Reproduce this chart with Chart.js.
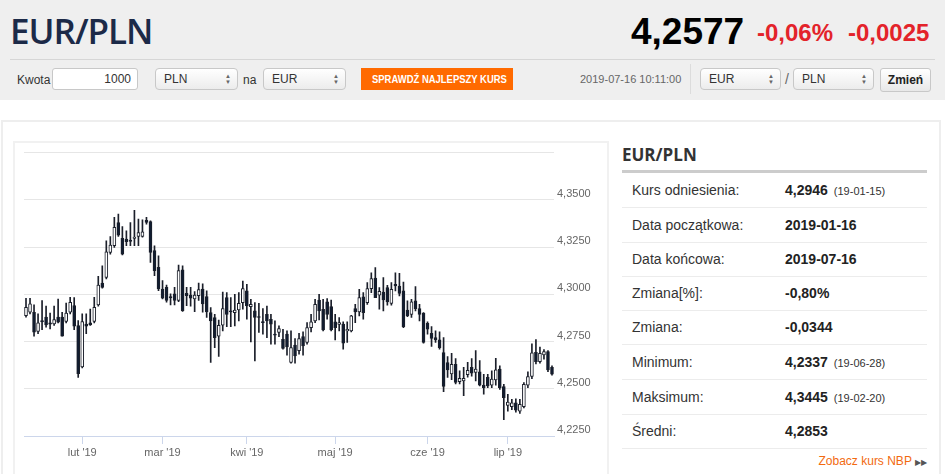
<!DOCTYPE html>
<html lang="pl">
<head>
<meta charset="utf-8">
<title>EUR/PLN</title>
<script src="https://cdn.jsdelivr.net/npm/chart.js@4.4.1/dist/chart.umd.min.js"></script>
<style>
    body { margin: 0; width: 945px; height: 474px; overflow: hidden; background: #fff; font-family: "Liberation Sans", Arial, sans-serif; color: #333; position: relative; }
    .abs { position: absolute; }
    #top { left: 0; top: 0; width: 945px; height: 100px; background: #efefef; }
    #pair { left: 10px; top: 7px; font-family: "Open Sans", sans-serif; font-weight: 600; font-size: 35px; color: #1c2a48; letter-spacing: -1px; }
    .narrow { font-family: "Liberation Sans Narrow", "Liberation Sans", Arial, sans-serif; font-weight: bold; }
    #price { left: 631px; top: 11px; font-size: 37px; color: #000; }
    #pct { left: 757px; top: 19px; font-size: 24px; color: #e3232a; }
    #chg { left: 848px; top: 19px; font-size: 24px; color: #e3232a; }
    #hr { left: 10px; top: 59px; width: 925px; height: 1px; background: #d6d6d6; }
    .lbl { font-size: 12px; top: 73px; }
    .box { top: 68px; height: 20px; border: 1px solid #c8c8c8; border-radius: 4px; background: linear-gradient(#fff, #ececec); font-size: 12px; line-height: 20px; box-sizing: content-box; }
    .box span.t { position: absolute; left: 8px; }
    .arr { position: absolute; right: 6px; top: 4px; font-size: 6px; line-height: 6px; color: #666; }
    #input { left: 52px; width: 84px; background: #fff; border-radius: 3px; text-align: right; }
    #btn { left: 361px; top: 68px; width: 152px; height: 22px; background: #ff6a00; color: #fff; font-size: 11px; line-height: 22px; text-align: center; white-space: nowrap; overflow: hidden; }
    #btn span { display: inline-block; transform: scaleX(0.86); transform-origin: center; }
    #stamp { left: 580px; top: 73px; font-size: 11px; color: #666; }
    #vsep { left: 690px; top: 64px; width: 1px; height: 30px; background: #dcdcdc; }
    #zmien { left: 880px; top: 68px; width: 49px; height: 22px; border: 1px solid #c8c8c8; border-radius: 3px; background: linear-gradient(#fff, #e8e8e8); font-size: 12px; font-weight: bold; line-height: 22px; text-align: center; color: #222; }
    #card { left: 1px; top: 120px; width: 936px; height: 400px; border: 2px solid #eeeeee; }
    #chartbox { left: 13px; top: 141px; width: 592px; height: 400px; border: 2px solid #f1f1f1; }
    #chart { position: absolute; left: 14px; top: 143px; }
    #panel { left: 622px; top: 140px; width: 305px; }
    #ptitle { left: 0; top: 3px; font-family: "Open Sans", sans-serif; font-weight: 700; font-size: 17px; color: #333; }
    #pline { left: 0; top: 30px; width: 305px; height: 3px; background: #cccccc; }
    .row { left: 0; width: 305px; height: 34px; border-bottom: 1px solid #ececec; font-size: 14px; }
    .row .k { position: absolute; left: 10px; top: 9px; color: #333; }
    .row .v { position: absolute; left: 163px; top: 9px; font-weight: bold; color: #222; }
    .row .d { font-size: 11px; font-weight: normal; margin-left: 6px; color: #333; }
    #nbp { right: 0; top: 314px; font-size: 12px; color: #f26a10; }
</style>
</head>
<body>
<div id="top" class="abs"></div>
<div id="pair" class="abs">EUR/PLN</div>
<div id="price" class="abs narrow">4,2577</div>
<div id="pct" class="abs narrow">-0,06%</div>
<div id="chg" class="abs narrow">-0,0025</div>
<div id="hr" class="abs"></div>

<div class="abs lbl" style="left:17px">Kwota</div>
<div id="input" class="abs box"><span style="padding-right:6px">1000</span></div>
<div class="abs box" style="left:155px;width:81px"><span class="t">PLN</span><span class="arr">▲<br>▼</span></div>
<div class="abs lbl" style="left:243px">na</div>
<div class="abs box" style="left:263px;width:81px"><span class="t">EUR</span><span class="arr">▲<br>▼</span></div>
<div id="btn" class="abs narrow"><span>SPRAWDŹ NAJLEPSZY KURS</span></div>
<div id="stamp" class="abs">2019-07-16 10:11:00</div>
<div id="vsep" class="abs"></div>
<div class="abs box" style="left:700px;width:79px"><span class="t">EUR</span><span class="arr">▲<br>▼</span></div>
<div class="abs lbl" style="left:785px;font-size:14px;top:71px;color:#666">/</div>
<div class="abs box" style="left:793px;width:79px"><span class="t">PLN</span><span class="arr">▲<br>▼</span></div>
<div id="zmien" class="abs">Zmień</div>

<div id="card" class="abs"></div>
<div id="chartbox" class="abs"></div>
<canvas id="chart" width="580" height="331"></canvas>

<div id="panel" class="abs">
    <div id="ptitle" class="abs">EUR/PLN</div>
    <div id="pline" class="abs"></div>
    <div class="abs row" style="top:33px"><span class="k">Kurs odniesienia:</span><span class="v">4,2946<span class="d">(19-01-15)</span></span></div>
    <div class="abs row" style="top:68px"><span class="k">Data początkowa:</span><span class="v">2019-01-16</span></div>
    <div class="abs row" style="top:102px"><span class="k">Data końcowa:</span><span class="v">2019-07-16</span></div>
    <div class="abs row" style="top:136px"><span class="k">Zmiana[%]:</span><span class="v">-0,80%</span></div>
    <div class="abs row" style="top:170px"><span class="k">Zmiana:</span><span class="v">-0,0344</span></div>
    <div class="abs row" style="top:205px"><span class="k">Minimum:</span><span class="v">4,2337<span class="d">(19-06-28)</span></span></div>
    <div class="abs row" style="top:240px"><span class="k">Maksimum:</span><span class="v">4,3445<span class="d">(19-02-20)</span></span></div>
    <div class="abs row" style="top:274px"><span class="k">Średni:</span><span class="v">4,2853</span></div>
    <div id="nbp" class="abs">Zobacz kurs NBP <span style="font-size:8px;color:#555">▶▶</span></div>
</div>

<script>
// notowania dzienne EUR/PLN, 2019-01-14 .. 2019-07-16
const startDate = '2019-01-14';
const endDate = '2019-07-16';
const monthNames = ['sty', 'lut', 'mar', 'kwi', 'maj', 'cze', 'lip', 'sie', 'wrz', 'paź', 'lis', 'gru'];

const opens = [
    4.2887, 4.2905, 4.2905, 4.2803, 4.2861, 4.2879, 4.2849, 4.2843, 4.2879, 4.2879,
    4.2856, 4.2905, 4.2940, 4.2834, 4.2615, 4.2842, 4.2849, 4.2856, 4.2944, 4.3060,
    4.3090, 4.3222, 4.3257, 4.3380, 4.3296, 4.3292, 4.3287, 4.3296, 4.3306, 4.3306,
    4.3392, 4.3385, 4.3231, 4.3143, 4.3028, 4.3037, 4.2988, 4.3002, 4.2967, 4.3130,
    4.3005, 4.2996, 4.2975, 4.2993, 4.3028, 4.2988, 4.2903, 4.2877, 4.2778, 4.2836,
    4.2982, 4.2912, 4.2903, 4.2917, 4.2956, 4.3018, 4.2935, 4.2912, 4.2882, 4.2854,
    4.2894, 4.2868, 4.2789, 4.2798, 4.2762, 4.2789, 4.2639, 4.2731, 4.2701, 4.2776,
    4.2745, 4.2824, 4.2859, 4.2970, 4.2921, 4.2960, 4.2935, 4.2854, 4.2840, 4.2842,
    4.2806, 4.2806, 4.2924, 4.2907, 4.2986, 4.2956, 4.3030, 4.3086, 4.2995, 4.3012,
    4.3035, 4.2952, 4.3053, 4.3044, 4.3018, 4.2917, 4.2894, 4.2965, 4.2924, 4.2900,
    4.2847, 4.2794, 4.2771, 4.2759, 4.2692, 4.2639, 4.2578, 4.2630, 4.2537, 4.2542,
    4.2575, 4.2613, 4.2586, 4.2590, 4.2519, 4.2560, 4.2519, 4.2547, 4.2604, 4.2511,
    4.2412, 4.2405, 4.2426, 4.2382, 4.2405, 4.2519, 4.2565, 4.2693, 4.2643, 4.2679,
    4.2697, 4.2613
];
const highs = [
    4.2979, 4.2979, 4.2944, 4.2896, 4.2967, 4.2937, 4.2901, 4.2937, 4.2975, 4.2905,
    4.2954, 4.2984, 4.2982, 4.2861, 4.2896, 4.2896, 4.2922, 4.2984, 4.3095, 4.3151,
    4.3283, 4.3306, 4.3407, 4.3424, 4.3359, 4.3336, 4.3380, 4.3445, 4.3398, 4.3394,
    4.3407, 4.3389, 4.3257, 4.3204, 4.3072, 4.3049, 4.3002, 4.3037, 4.3155, 4.3151,
    4.3037, 4.3037, 4.3014, 4.3060, 4.3055, 4.3018, 4.2930, 4.2894, 4.2864, 4.3012,
    4.3009, 4.2982, 4.3000, 4.3009, 4.3070, 4.3053, 4.2974, 4.2956, 4.2952, 4.2924,
    4.2938, 4.2894, 4.2859, 4.2833, 4.2815, 4.2806, 4.2806, 4.2766, 4.2794, 4.2801,
    4.2850, 4.2894, 4.2974, 4.3000, 4.2974, 4.2977, 4.2970, 4.2894, 4.2877, 4.2854,
    4.2854, 4.2889, 4.2947, 4.3026, 4.3009, 4.3062, 4.3114, 4.3141, 4.3035, 4.3088,
    4.3048, 4.3062, 4.3114, 4.3111, 4.3065, 4.2965, 4.2974, 4.3041, 4.2947, 4.2903,
    4.2854, 4.2829, 4.2806, 4.2801, 4.2771, 4.2671, 4.2688, 4.2660, 4.2595, 4.2613,
    4.2640, 4.2660, 4.2702, 4.2649, 4.2577, 4.2577, 4.2595, 4.2661, 4.2622, 4.2524,
    4.2471, 4.2444, 4.2447, 4.2444, 4.2533, 4.2590, 4.2738, 4.2761, 4.2720, 4.2707,
    4.2702, 4.2622
];
const lows = [
    4.2879, 4.2896, 4.2778, 4.2791, 4.2813, 4.2826, 4.2817, 4.2835, 4.2849, 4.2778,
    4.2849, 4.2896, 4.2813, 4.2560, 4.2610, 4.2791, 4.2835, 4.2849, 4.2937, 4.3032,
    4.3081, 4.3213, 4.3248, 4.3306, 4.3208, 4.3257, 4.3257, 4.3257, 4.3257, 4.3303,
    4.3371, 4.3169, 4.3099, 4.3019, 4.2975, 4.2958, 4.2944, 4.2944, 4.2961, 4.2910,
    4.2940, 4.2937, 4.2908, 4.2967, 4.2905, 4.2877, 4.2639, 4.2718, 4.2671, 4.2806,
    4.2829, 4.2829, 4.2833, 4.2859, 4.2921, 4.2868, 4.2748, 4.2648, 4.2798, 4.2789,
    4.2771, 4.2736, 4.2736, 4.2776, 4.2710, 4.2678, 4.2636, 4.2636, 4.2683, 4.2678,
    4.2736, 4.2801, 4.2850, 4.2864, 4.2806, 4.2868, 4.2806, 4.2759, 4.2806, 4.2710,
    4.2745, 4.2801, 4.2850, 4.2886, 4.2868, 4.2947, 4.3009, 4.2982, 4.2921, 4.2912,
    4.2942, 4.2942, 4.3018, 4.2991, 4.2824, 4.2882, 4.2877, 4.2912, 4.2859, 4.2741,
    4.2789, 4.2724, 4.2745, 4.2710, 4.2484, 4.2560, 4.2548, 4.2525, 4.2525, 4.2463,
    4.2562, 4.2567, 4.2542, 4.2515, 4.2471, 4.2506, 4.2506, 4.2519, 4.2497, 4.2337,
    4.2382, 4.2390, 4.2376, 4.2369, 4.2399, 4.2506, 4.2554, 4.2631, 4.2636, 4.2657,
    4.2590, 4.2572
];
const closes = [
    4.2931, 4.2949, 4.2799, 4.2849, 4.2854, 4.2838, 4.2842, 4.2866, 4.2852, 4.2778,
    4.2901, 4.2958, 4.2831, 4.2580, 4.2856, 4.2831, 4.2838, 4.2931, 4.3049, 4.3037,
    4.3225, 4.3260, 4.3354, 4.3313, 4.3213, 4.3278, 4.3280, 4.3303, 4.3327, 4.3331,
    4.3380, 4.3222, 4.3125, 4.3028, 4.2979, 4.2967, 4.2981, 4.2967, 4.3125, 4.2914,
    4.2993, 4.2979, 4.2996, 4.3025, 4.2949, 4.2907, 4.2859, 4.2771, 4.2836, 4.2924,
    4.2894, 4.2907, 4.2916, 4.2952, 4.3030, 4.2938, 4.2947, 4.2877, 4.2877, 4.2850,
    4.2859, 4.2842, 4.2784, 4.2819, 4.2713, 4.2722, 4.2718, 4.2674, 4.2766, 4.2727,
    4.2824, 4.2854, 4.2947, 4.2912, 4.2812, 4.2894, 4.2812, 4.2824, 4.2850, 4.2741,
    4.2815, 4.2886, 4.2907, 4.2982, 4.2903, 4.3030, 4.3083, 4.2982, 4.3016, 4.2970,
    4.2960, 4.3026, 4.3044, 4.3005, 4.2829, 4.2886, 4.2960, 4.2924, 4.2894, 4.2745,
    4.2815, 4.2766, 4.2759, 4.2718, 4.2512, 4.2600, 4.2630, 4.2534, 4.2555, 4.2555,
    4.2598, 4.2583, 4.2604, 4.2519, 4.2506, 4.2515, 4.2551, 4.2600, 4.2506, 4.2453,
    4.2430, 4.2426, 4.2387, 4.2417, 4.2524, 4.2565, 4.2690, 4.2643, 4.2688, 4.2697,
    4.2600, 4.2577
];

const yMin = 4.225;
const yMax = 4.375;
const yStep = 0.025;

// dni sesyjne (pn-pt) jako kategorie osi X
const days = [];
for (let d = new Date(startDate + 'T12:00:00'); d <= new Date(endDate + 'T12:00:00'); d.setDate(d.getDate() + 1)) {
    if (d.getDay() !== 0 && d.getDay() !== 6) {
        days.push(new Date(d));
    }
}
const labels = days.map(d => d.toISOString().slice(0, 10));

// etykieta tylko przy pierwszej sesji miesiąca
const monthLabel = (index) => {
    if (index === 0) return '';
    const d = days[index];
    if (d.getMonth() !== days[index - 1].getMonth()) {
        return monthNames[d.getMonth()] + " '" + String(d.getFullYear()).slice(2);
    }
    return '';
};

const upFill = '#ffffff';
const downFill = '#101c30';
const edge = '#1b1f2a';

const isUp = opens.map((o, i) => closes[i] >= o);

const ctx = document.getElementById('chart').getContext('2d');
new Chart(ctx, {
    type: 'bar',
    data: {
        labels: labels,
        datasets: [
            {
                // korpusy świec
                data: opens.map((o, i) => [o, closes[i]]),
                backgroundColor: isUp.map(u => u ? upFill : downFill),
                borderColor: edge,
                borderWidth: 1,
                borderSkipped: false,
                barThickness: 3,
                minBarLength: 1,
                grouped: false
            },
            {
                // knoty
                data: lows.map((l, i) => [l, highs[i]]),
                backgroundColor: edge,
                borderWidth: 0,
                barThickness: 1,
                grouped: false
            }
        ]
    },
    options: {
        responsive: false,
        animation: false,
        devicePixelRatio: 1,
        layout: { padding: { left: 10, top: 8, right: 0, bottom: 0 } },
        plugins: {
            legend: { display: false },
            tooltip: { enabled: false }
        },
        scales: {
            x: {
                type: 'category',
                offset: true,
                grid: {
                    display: true,
                    offset: false,
                    drawOnChartArea: false,
                    drawTicks: true,
                    tickLength: 8,
                    color: (c) => (c.index !== undefined && monthLabel(c.index)) ? '#ccd6eb' : 'rgba(0,0,0,0)'
                },
                border: { color: '#ccd6eb' },
                ticks: {
                    autoSkip: false,
                    maxRotation: 0,
                    color: '#666666',
                    padding: 2,
                    font: { family: 'Liberation Sans, Arial, sans-serif', size: 11 },
                    callback: function (value, index) { return monthLabel(index); }
                },
                afterFit: function (scale) { scale.height = 38; }
            },
            y: {
                position: 'right',
                min: yMin,
                max: yMax,
                grid: { color: '#e6e6e6', drawTicks: false },
                border: { display: false },
                ticks: {
                    stepSize: yStep,
                    color: '#666666',
                    padding: 3,
                    labelOffset: -6,
                    crossAlign: 'near',
                    font: { family: 'Liberation Sans, Arial, sans-serif', size: 11 },
                    callback: function (value) {
                        if (Math.abs(value - yMax) < 1e-6) return '';
                        return value.toFixed(4).replace('.', ',');
                    }
                },
                afterFit: function (scale) { scale.width = 40; }
            }
        }
    }
});
</script>
</body>
</html>
